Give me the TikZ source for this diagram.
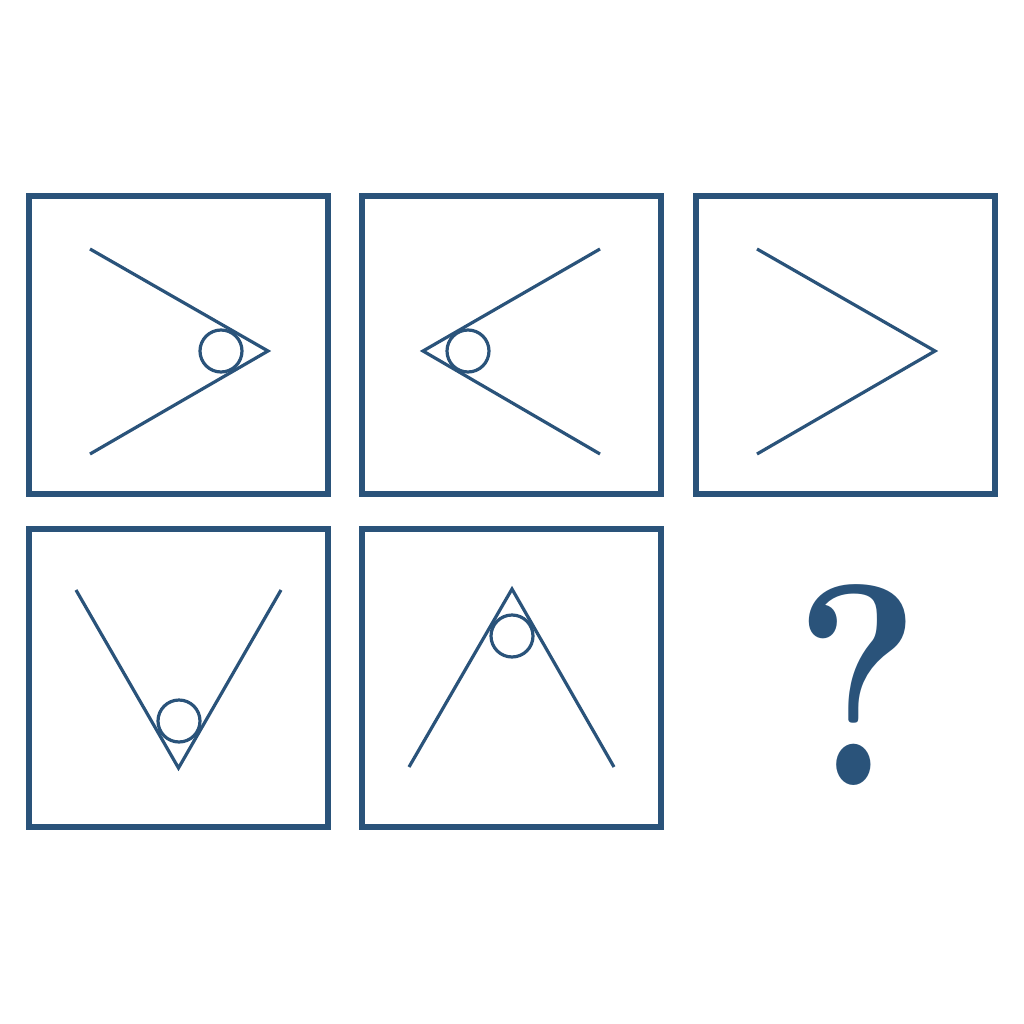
\documentclass[tikz,border=0pt]{standalone}
\definecolor{navy}{RGB}{42,83,122}
\begin{document}
\begin{tikzpicture}[x=1pt,y=-1pt,
  panel/.style={draw=navy,line width=5.5pt,minimum width=299pt,minimum height=298pt,inner sep=0pt},
  fig/.style={draw=navy,line width=3.2pt,line join=miter},
  ring/.style={draw=navy,line width=3.2pt}]
\useasboundingbox (0,0) rectangle (1024,1024);
\node[panel] (b1) at (178.5,345) {};
\node[panel] (b2) at (511.5,345) {};
\node[panel] (b3) at (845.5,345) {};
\node[panel] (b4) at (178.5,678) {};
\node[panel] (b5) at (511.5,678) {};
% panel 1
\draw[fig] (90,249) -- (268,351) -- (90,454);
\draw[ring] (221,351) circle (21);
% panel 2
\draw[fig] (600,249) -- (423,351) -- (600,454);
\draw[ring] (468,351) circle (21);
% panel 3
\draw[fig] (757,249) -- (935,351) -- (757,454);
% panel 4
\draw[fig] (76,590) -- (178.5,768) -- (281,590);
\draw[ring] (179,721) circle (21);
% panel 5
\draw[fig] (409,767) -- (512,589) -- (614,767);
\draw[ring] (512,636) circle (21);
% question mark
\node[text=navy,font=\bfseries\fontsize{287}{287}\selectfont,inner sep=0pt] (q) at (858,685) {\scalebox{0.83}[1]{?}};
\end{tikzpicture}
\end{document}
